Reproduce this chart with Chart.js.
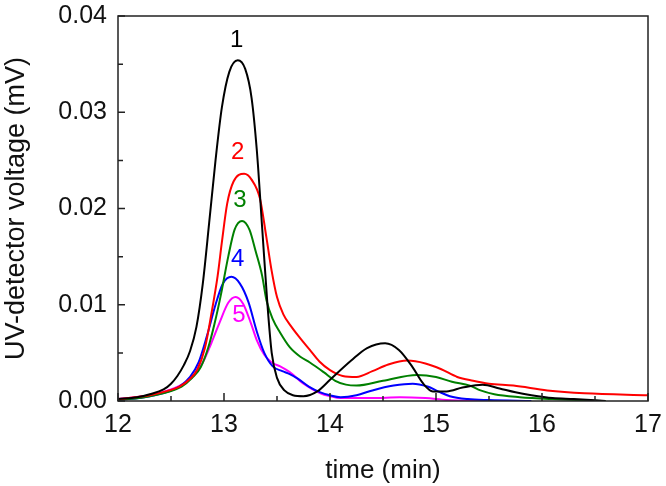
<!DOCTYPE html>
<html>
<head>
<meta charset="utf-8">
<script src="https://cdn.jsdelivr.net/npm/chart.js@4/dist/chart.umd.min.js"></script>
<style>
  html, body { margin: 0; padding: 0; background: #fff; }
  #wrap { width: 666px; height: 486px; }
</style>
</head>
<body>
<div id="wrap"><canvas id="chart" width="666" height="486"></canvas></div>
<script>
// elution time (min) and detector signal (mV) for each trace
const time1 = [12.0, 12.18, 12.3, 12.43, 12.5, 12.56, 12.62, 12.68, 12.74, 12.8, 12.86, 12.92, 12.98, 13.05, 13.13, 13.2, 13.26, 13.31, 13.36, 13.41, 13.45, 13.5, 13.57, 13.65, 13.75, 13.88, 14.0, 14.2, 14.35, 14.52, 14.65, 14.78, 14.88, 14.97, 15.1, 15.25, 15.44, 15.6, 15.75, 15.9, 16.1, 16.3, 16.6];
const volt1 = [0.0002, 0.0004, 0.0007, 0.0012, 0.0018, 0.0026, 0.0037, 0.0052, 0.0077, 0.0122, 0.0185, 0.025, 0.0305, 0.0342, 0.0354, 0.0345, 0.0315, 0.026, 0.018, 0.01, 0.005, 0.0024, 0.0011, 0.0006, 0.0005, 0.001, 0.0022, 0.0042, 0.0055, 0.006, 0.0053, 0.0035, 0.0018, 0.001, 0.001, 0.0014, 0.0017, 0.0013, 0.0009, 0.0006, 0.0003, 0.0002, 0.0];

const time2 = [12.0, 12.3, 12.45, 12.58, 12.67, 12.75, 12.82, 12.88, 12.94, 12.98, 13.03, 13.09, 13.19, 13.26, 13.34, 13.4, 13.45, 13.5, 13.56, 13.63, 13.72, 13.81, 13.9, 14.0, 14.12, 14.25, 14.4, 14.55, 14.73, 14.9, 15.05, 15.2, 15.35, 15.5, 15.73, 16.05, 16.4, 17.0];
const volt2 = [0.0002, 0.0006, 0.001, 0.0015, 0.0022, 0.0033, 0.0055, 0.009, 0.013, 0.0165, 0.0205, 0.0228, 0.0236, 0.023, 0.021, 0.017, 0.0135, 0.0108, 0.009, 0.0078, 0.0065, 0.0053, 0.0041, 0.0032, 0.0026, 0.0025, 0.0031, 0.0038, 0.0042, 0.0039, 0.0033, 0.0025, 0.0021, 0.0018, 0.0016, 0.0011, 0.0008, 0.0006];

const time3 = [12.0, 12.3, 12.6, 12.7, 12.78, 12.85, 12.91, 12.97, 13.04, 13.1, 13.17, 13.24, 13.3, 13.36, 13.4, 13.46, 13.53, 13.62, 13.72, 13.81, 13.94, 14.05, 14.15, 14.25, 14.5, 14.82, 15.0, 15.15, 15.32, 15.42, 15.55, 15.79, 16.1, 16.6];
const volt3 = [0.0001, 0.0005, 0.0015, 0.0024, 0.0035, 0.0055, 0.008, 0.011, 0.015, 0.0178, 0.0187, 0.0178, 0.0155, 0.013, 0.0105, 0.0085, 0.0071, 0.0056, 0.0046, 0.004, 0.003, 0.0021, 0.0017, 0.0016, 0.0021, 0.0027, 0.0025, 0.002, 0.0016, 0.0011, 0.0007, 0.0004, 0.0002, 0.0];

const time4 = [12.0, 12.3, 12.58, 12.68, 12.76, 12.84, 12.92, 12.99, 13.07, 13.15, 13.23, 13.31, 13.38, 13.46, 13.55, 13.62, 13.7, 13.8, 13.91, 14.0, 14.1, 14.25, 14.4, 14.6, 14.78, 14.92, 15.02, 15.13, 15.3, 15.5, 15.9];
const volt4 = [0.0001, 0.0005, 0.0015, 0.0025, 0.004, 0.0068, 0.01, 0.0122, 0.0129, 0.0122, 0.0103, 0.0072, 0.005, 0.0036, 0.0031, 0.0028, 0.0023, 0.0015, 0.0009, 0.0006, 0.0004, 0.0006, 0.0011, 0.0016, 0.0018, 0.0015, 0.001, 0.0005, 0.0002, 0.0001, 0.0];

const time5 = [12.0, 12.3, 12.5, 12.62, 12.72, 12.8, 12.88, 12.96, 13.04, 13.11, 13.18, 13.25, 13.31, 13.38, 13.45, 13.53, 13.62, 13.75, 13.91, 14.0, 14.1, 14.4, 14.66, 14.9, 15.1, 15.5];
const volt5 = [0.0002, 0.0006, 0.0012, 0.0018, 0.0027, 0.004, 0.006, 0.0082, 0.0102, 0.0108, 0.0101, 0.0082, 0.0063, 0.0048, 0.004, 0.0036, 0.003, 0.0018, 0.0008, 0.0005, 0.0003, 0.0003, 0.0004, 0.0003, 0.0001, 0.0];

const traceColors = ['#000000', '#ff0000', '#008000', '#0000ff', '#ff00ff'];

// curve numbers written above each peak
const labelText = ['1', '2', '3', '4', '5'];
const labelTime = [13.12, 13.13, 13.15, 13.13, 13.14];
const labelVolt = [0.0375, 0.0258, 0.0208, 0.0147, 0.0089];

const xTicks = [12, 13, 14, 15, 16, 17];
const yTicks = [0.00, 0.01, 0.02, 0.03, 0.04];

const FONT = '"Liberation Sans", Arial, Helvetica, sans-serif';

function toPoints(ts, vs) {
  return ts.map((t, i) => ({ x: t, y: vs[i] }));
}

const traces = [[time1, volt1], [time2, volt2], [time3, volt3], [time4, volt4], [time5, volt5]];

// frame, inward ticks and peak numbers
const framePlugin = {
  id: 'frame',
  afterDatasetsDraw(chart) {
    const { ctx, chartArea: a, scales: { x, y } } = chart;
    ctx.save();
    ctx.strokeStyle = '#222';
    ctx.lineWidth = 1.5;

    ctx.beginPath();
    xTicks.forEach((t, i) => {
      const px = x.getPixelForValue(t);
      ctx.moveTo(px, a.bottom);
      ctx.lineTo(px, a.bottom - 8);
      if (i < xTicks.length - 1) {
        const mx = x.getPixelForValue(t + 0.5);
        ctx.moveTo(mx, a.bottom);
        ctx.lineTo(mx, a.bottom - 5);
      }
    });
    yTicks.forEach((v, i) => {
      const py = y.getPixelForValue(v);
      ctx.moveTo(a.left, py);
      ctx.lineTo(a.left + 7, py);
      if (i < yTicks.length - 1) {
        const my = y.getPixelForValue(v + 0.005);
        ctx.moveTo(a.left, my);
        ctx.lineTo(a.left + 5, my);
      }
    });
    ctx.stroke();

    ctx.strokeRect(a.left, a.top, a.right - a.left, a.bottom - a.top);

    ctx.font = '24px ' + FONT;
    ctx.textAlign = 'center';
    ctx.textBaseline = 'middle';
    labelText.forEach((txt, i) => {
      ctx.fillStyle = traceColors[i];
      ctx.fillText(txt, x.getPixelForValue(labelTime[i]), y.getPixelForValue(labelVolt[i]));
    });
    ctx.restore();
  }
};

new Chart(document.getElementById('chart'), {
  type: 'line',
  data: {
    datasets: traces.map(([ts, vs], i) => ({
      label: labelText[i],
      data: toPoints(ts, vs),
      borderColor: traceColors[i],
      borderWidth: 2,
      pointRadius: 0,
      fill: false,
      cubicInterpolationMode: 'monotone'
    }))
  },
  options: {
    responsive: false,
    animation: false,
    devicePixelRatio: 1,
    layout: { padding: { top: 16, right: 18, left: 0, bottom: 0 } },
    plugins: { legend: { display: false }, tooltip: { enabled: false } },
    scales: {
      x: {
        type: 'linear',
        min: 12,
        max: 17,
        grid: { display: false, drawTicks: false },
        border: { display: false },
        ticks: {
          stepSize: 1,
          padding: 9,
          color: '#111',
          font: { family: FONT, size: 25 },
          maxRotation: 0
        },
        title: {
          display: true,
          text: 'time (min)',
          color: '#111',
          font: { family: FONT, size: 26 },
          padding: 0
        },
        afterFit(scale) {
          scale.height = 85;
          scale.paddingLeft = 0;
          scale.paddingRight = 0;
        }
      },
      y: {
        min: 0,
        max: 0.04,
        grid: { display: false, drawTicks: false },
        border: { display: false },
        ticks: {
          stepSize: 0.01,
          padding: 11,
          color: '#111',
          font: { family: FONT, size: 25 },
          callback: v => v.toFixed(2)
        },
        title: {
          display: true,
          text: 'UV-detector voltage (mV)',
          color: '#111',
          font: { family: FONT, size: 27 },
          padding: 0
        },
        afterFit(scale) {
          scale.width = 118;
          scale.paddingTop = 0;
          scale.paddingBottom = 0;
        }
      }
    }
  },
  plugins: [framePlugin]
});
</script>
</body>
</html>
